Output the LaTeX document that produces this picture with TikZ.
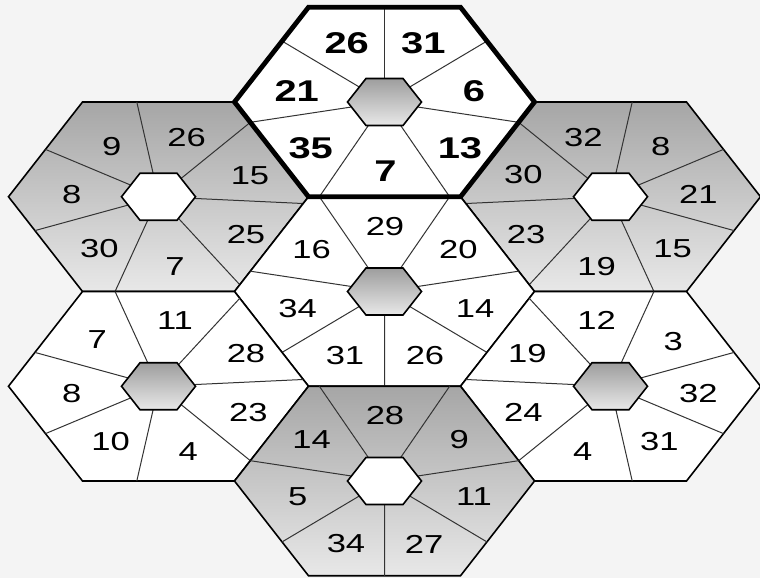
\documentclass[tikz,border=0pt]{standalone}
\usepackage{fontspec}
\setmainfont{Liberation Sans}
\newfontfamily\numfont[FakeStretch=1.33]{Liberation Sans}
\usepackage{tikz}
\usetikzlibrary{calc}
\definecolor{hxBack}{HTML}{F4F4F4}
\definecolor{hxDark}{HTML}{A6A6A6}
\definecolor{hxLight}{HTML}{E8E8E8}
\definecolor{hxRay}{HTML}{333333}
\tikzset{
  plaincell/.style={draw=black, line width=1.6pt, fill=white},
  shadecell/.style={draw=black, line width=1.6pt, top color=hxDark, bottom color=hxLight},
  plaincore/.style={draw=black, line width=1.6pt, top color=hxDark!95!black, bottom color=hxLight},
  shadecore/.style={draw=black, line width=1.6pt, fill=white},
  ray/.style={line width=1pt, hxRay},
  topframe/.style={draw=black, line width=4.8pt, line join=miter},
  num/.style={font=\numfont\fontsize{26}{30}\selectfont, inner sep=0pt},
  numtop/.style={font=\numfont\bfseries\fontsize{30}{34}\selectfont, inner sep=0pt}
}

\begin{document}
\begin{tikzpicture}[x=1pt, y=-1pt]
  \useasboundingbox (0,0) rectangle (760,578);
  \fill[hxBack] (0,0) rectangle (760,578);

  \foreach \cname/\cx/\cy/\off/\kind in {
      T/384.5/102/7/plain, UL/158.5/196.75/5/shade, UR/610.5/196.75/9/shade,
      M/384.5/291.5/1/plain, LL/158.5/386.25/3/plain, LR/610.5/386.25/11/plain,
      B/384.5/481/1/shade} {
    \begin{scope}[shift={(\cx,\cy)}]
      \coordinate (\cname) at (0,0);
      \coordinate (\cname-v0) at (-76,-94.75);
      \coordinate (\cname-v1) at (76,-94.75);
      \coordinate (\cname-v2) at (150,0);
      \coordinate (\cname-v3) at (76,94.75);
      \coordinate (\cname-v4) at (-76,94.75);
      \coordinate (\cname-v5) at (-150,0);
      \coordinate (\cname-v6) at (-76,-94.75);
      \path[\kind cell] (\cname-v0) -- (\cname-v1) -- (\cname-v2) -- (\cname-v3)
        -- (\cname-v4) -- (\cname-v5) -- cycle;
      \foreach \k in {0,...,6} {
        \pgfmathsetmacro{\sPos}{\off/14+\k*12/14}
        \pgfmathtruncatemacro{\eIdx}{floor(\sPos)}
        \pgfmathtruncatemacro{\fIdx}{\eIdx+1}
        \pgfmathsetmacro{\tFrac}{\sPos-\eIdx}
        \draw[ray] (\cname) -- ($(\cname-v\eIdx)!\tFrac!(\cname-v\fIdx)$);
      }
      \path[\kind core] (-18.5,-23.5) -- (18.5,-23.5) -- (37,0) -- (18.5,23.5)
        -- (-18.5,23.5) -- (-37,0) -- cycle;
    \end{scope}
  }

  \draw[topframe] (T-v0) -- (T-v1) -- (T-v2) -- (T-v3) -- (T-v4) -- (T-v5) -- cycle;

  \node[numtop] (T-26) at (346.7,43.3) {26};
  \node[numtop] (T-31) at (423.3,43.3) {31};
  \node[numtop] (T-21) at (296.7,91.5) {21};
  \node[numtop] (T-6) at (474,91.5) {6};
  \node[numtop] (T-35) at (310.7,148.3) {35};
  \node[numtop] (T-13) at (460,148.3) {13};
  \node[numtop] (T-7) at (385.5,171) {7};

  \node[num] (UL-9) at (111.7,146.7) {9};
  \node[num] (UL-26) at (186.7,137.7) {26};
  \node[num] (UL-8) at (71.7,194.3) {8};
  \node[num] (UL-15) at (250,175.7) {15};
  \node[num] (UL-30) at (99.3,248.3) {30};
  \node[num] (UL-25) at (246,235) {25};
  \node[num] (UL-7) at (175,266.7) {7};

  \node[num] (UR-32) at (583.3,137.7) {32};
  \node[num] (UR-8) at (660.7,146.7) {8};
  \node[num] (UR-30) at (523.3,175) {30};
  \node[num] (UR-21) at (698.3,194.3) {21};
  \node[num] (UR-23) at (526,235) {23};
  \node[num] (UR-15) at (672.7,248.3) {15};
  \node[num] (UR-19) at (596.7,266.7) {19};

  \node[num] (M-29) at (385,226.7) {29};
  \node[num] (M-16) at (311.7,250) {16};
  \node[num] (M-20) at (458.3,250) {20};
  \node[num] (M-34) at (297.7,308.3) {34};
  \node[num] (M-14) at (475,308.3) {14};
  \node[num] (M-31) at (345,356) {31};
  \node[num] (M-26) at (425,356) {26};

  \node[num] (LL-11) at (175,320.7) {11};
  \node[num] (LL-7) at (97.3,340) {7};
  \node[num] (LL-28) at (246,354) {28};
  \node[num] (LL-8) at (71.7,394) {8};
  \node[num] (LL-23) at (248.3,412.7) {23};
  \node[num] (LL-10) at (110.7,441.7) {10};
  \node[num] (LL-4) at (188.3,451.7) {4};

  \node[num] (LR-12) at (596.7,320.7) {12};
  \node[num] (LR-3) at (673.3,341.7) {3};
  \node[num] (LR-19) at (527.3,354) {19};
  \node[num] (LR-32) at (698.3,394) {32};
  \node[num] (LR-24) at (523.3,412.7) {24};
  \node[num] (LR-31) at (659.3,441.7) {31};
  \node[num] (LR-4) at (582.7,451.7) {4};

  \node[num] (B-28) at (385,416) {28};
  \node[num] (B-14) at (311.7,440) {14};
  \node[num] (B-9) at (459.3,440) {9};
  \node[num] (B-5) at (297.7,496.7) {5};
  \node[num] (B-11) at (474,496.7) {11};
  \node[num] (B-34) at (346,544) {34};
  \node[num] (B-27) at (424,544) {27};
\end{tikzpicture}
\end{document}
